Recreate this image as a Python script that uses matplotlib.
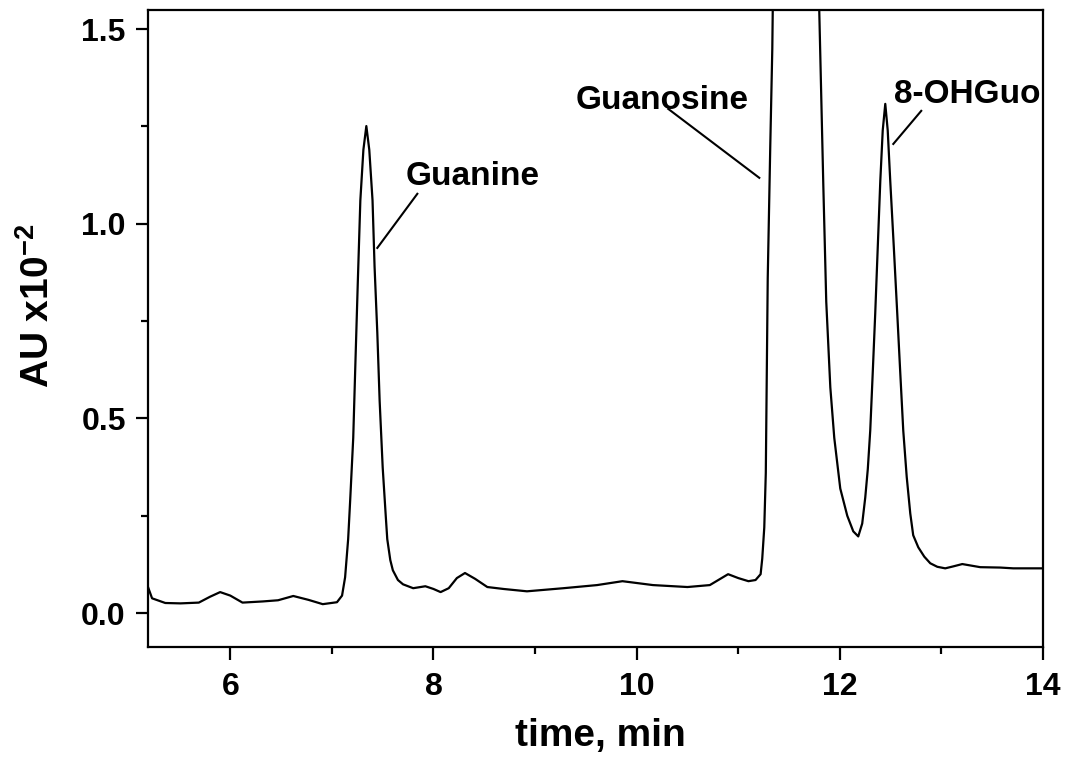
import matplotlib
matplotlib.use("Agg")
import matplotlib.pyplot as plt
from matplotlib.ticker import MultipleLocator

# chromatogram trace (time in min, signal in AU x10^-2)
tempo = [5.19, 5.23, 5.36, 5.51, 5.69, 5.80, 5.90, 6.00, 6.12, 6.32, 6.47, 6.62,
         6.77, 6.91, 7.05, 7.10, 7.13, 7.16, 7.18, 7.21, 7.23, 7.255, 7.28, 7.31,
         7.339, 7.368, 7.40, 7.42, 7.447, 7.47, 7.50, 7.53, 7.545, 7.575, 7.60,
         7.65, 7.70, 7.80, 7.92, 8.00, 8.07, 8.15, 8.23, 8.31, 8.41, 8.53, 8.69,
         8.92, 9.28, 9.61, 9.86, 10.16, 10.50, 10.72, 10.90, 11.00, 11.10, 11.17,
         11.22, 11.236, 11.256, 11.271, 11.290, 11.315, 11.335, 11.344, 11.55,
         11.787, 11.797, 11.837, 11.866, 11.906, 11.945, 12.004, 12.073, 12.132,
         12.181, 12.220, 12.250, 12.275, 12.299, 12.324, 12.348, 12.373, 12.398,
         12.422, 12.447, 12.471, 12.496, 12.531, 12.565, 12.594, 12.624, 12.658,
         12.693, 12.722, 12.772, 12.831, 12.890, 12.959, 13.037, 13.116, 13.205,
         13.382, 13.579, 13.707, 14.00]
sinal = [0.067, 0.038, 0.026, 0.025, 0.027, 0.042, 0.054, 0.045, 0.027, 0.030,
         0.033, 0.044, 0.034, 0.023, 0.028, 0.045, 0.092, 0.19, 0.29, 0.45, 0.63,
         0.85, 1.06, 1.19, 1.251, 1.19, 1.06, 0.89, 0.72, 0.545, 0.374, 0.25,
         0.19, 0.136, 0.11, 0.085, 0.074, 0.064, 0.069, 0.062, 0.054, 0.064,
         0.090, 0.103, 0.088, 0.067, 0.062, 0.056, 0.064, 0.072, 0.082, 0.072,
         0.067, 0.072, 0.100, 0.090, 0.082, 0.085, 0.100, 0.14, 0.22, 0.36, 0.86,
         1.20, 1.45, 1.65, 2.2, 1.65, 1.55, 1.10, 0.80, 0.58, 0.45, 0.32, 0.25,
         0.21, 0.197, 0.23, 0.297, 0.37, 0.469, 0.62, 0.769, 0.94, 1.11, 1.24,
         1.308, 1.24, 1.11, 0.94, 0.769, 0.62, 0.469, 0.35, 0.256, 0.20, 0.169,
         0.145, 0.128, 0.119, 0.115, 0.120, 0.126, 0.118, 0.117, 0.115, 0.115]

# rotulos dos picos: texto, posicao do texto, linha guia (x0, x1), (y0, y1)
picos = ["Guanine", "Guanosine", "8-OHGuo"]
texto_x = [7.73, 9.40, 12.53]
texto_y = [1.10, 1.295, 1.31]
guia_x = [(7.447, 7.841), (10.311, 11.207), (12.526, 12.801)]
guia_y = [(0.938, 1.077), (1.295, 1.118), (1.205, 1.290)]

plt.rcParams["font.family"] = ["Liberation Sans", "DejaVu Sans"]
plt.rcParams["font.weight"] = "bold"
plt.rcParams["mathtext.fontset"] = "custom"
plt.rcParams["mathtext.rm"] = "Liberation Sans:bold"
plt.rcParams["mathtext.bf"] = "Liberation Sans:bold"

fig = plt.figure(figsize=(10.71, 7.6), dpi=100)
ax = fig.add_axes([0.1382, 0.1487, 0.8357, 0.8381])

ax.plot(tempo, sinal, color="black", lw=1.6)

for nome, tx, ty, gx, gy in zip(picos, texto_x, texto_y, guia_x, guia_y):
    ax.plot(gx, gy, color="black", lw=1.5)
    ax.text(tx, ty, nome, fontsize=24, fontweight="bold", ha="left", va="baseline")

ax.set_xlim(5.19, 14)
ax.set_ylim(-0.087, 1.549)
ax.xaxis.set_major_locator(MultipleLocator(2))
ax.xaxis.set_minor_locator(MultipleLocator(1))
ax.yaxis.set_major_locator(MultipleLocator(0.5))
ax.yaxis.set_minor_locator(MultipleLocator(0.25))
ax.yaxis.set_major_formatter(plt.FormatStrFormatter("%.1f"))

for s in ax.spines.values():
    s.set_linewidth(1.6)
ax.tick_params(which="major", direction="out", length=9, width=1.6, labelsize=23)
ax.tick_params(axis="y", which="major", pad=7)
ax.tick_params(axis="x", which="major", pad=9)
ax.tick_params(which="minor", direction="out", length=5, width=1.6)

ax.set_xlabel("time, min", fontsize=28, fontweight="bold")
ax.xaxis.set_label_coords(0.505, -0.112)
ax.set_ylabel(r"AU x10$^{-2}$", fontsize=28, fontweight="bold")
ax.yaxis.set_label_coords(-0.102, 0.536)

fig.savefig("out.png", dpi=100)
